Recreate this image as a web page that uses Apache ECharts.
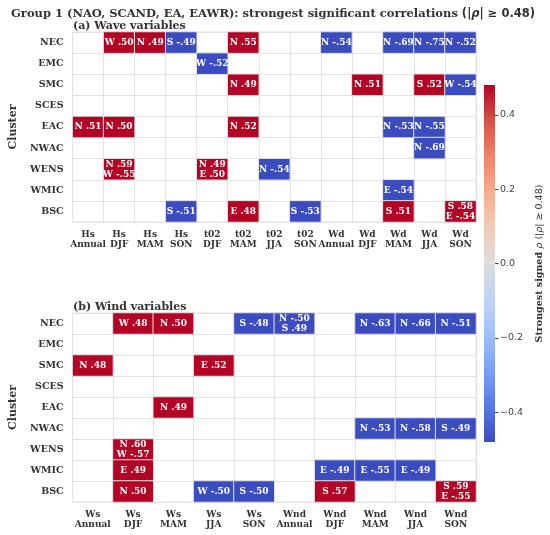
<!DOCTYPE html>
<html>
<head>
<meta charset="utf-8">
<script src="https://cdn.jsdelivr.net/npm/echarts@6/dist/echarts.min.js"></script>
<style>
  html, body { margin: 0; padding: 0; background: #fff; }
  #chart { width: 550px; height: 535px; }
</style>
</head>
<body>
<div id="chart"></div>
<script>
// ---- data ----
const clusters = ['NEC', 'EMC', 'SMC', 'SCES', 'EAC', 'NWAC', 'WENS', 'WMIC', 'BSC'];

const waveCols = ['Hs\nAnnual', 'Hs\nDJF', 'Hs\nMAM', 'Hs\nSON', 't02\nDJF', 't02\nMAM', 't02\nJJA',
  't02\nSON', 'Wd\nAnnual', 'Wd\nDJF', 'Wd\nMAM', 'Wd\nJJA', 'Wd\nSON'];

const windCols = ['Ws\nAnnual', 'Ws\nDJF', 'Ws\nMAM', 'Ws\nJJA', 'Ws\nSON', 'Wnd\nAnnual', 'Wnd\nDJF',
  'Wnd\nMAM', 'Wnd\nJJA', 'Wnd\nSON'];

// [column, cluster row, strongest signed rho, cell text]
const waveCells = [
  [1, 0, 0.50, 'W .50'], [2, 0, 0.49, 'N .49'], [3, 0, -0.49, 'S -.49'], [5, 0, 0.55, 'N .55'],
  [8, 0, -0.54, 'N -.54'], [10, 0, -0.69, 'N -.69'], [11, 0, -0.75, 'N -.75'], [12, 0, -0.52, 'N -.52'],
  [4, 1, -0.52, 'W -.52'],
  [5, 2, 0.49, 'N .49'], [9, 2, 0.51, 'N .51'], [11, 2, 0.52, 'S .52'], [12, 2, -0.54, 'W -.54'],
  [0, 4, 0.51, 'N .51'], [1, 4, 0.50, 'N .50'], [5, 4, 0.52, 'N .52'], [10, 4, -0.53, 'N -.53'], [11, 4, -0.55, 'N -.55'],
  [11, 5, -0.69, 'N -.69'],
  [1, 6, 0.59, 'N .59\nW -.55'], [4, 6, 0.50, 'N .49\nE .50'], [6, 6, -0.54, 'N -.54'],
  [10, 7, -0.54, 'E -.54'],
  [3, 8, -0.51, 'S -.51'], [5, 8, 0.48, 'E .48'], [7, 8, -0.53, 'S -.53'], [10, 8, 0.51, 'S .51'],
  [12, 8, 0.58, 'S .58\nE -.54']
];

const windCells = [
  [1, 0, 0.48, 'W .48'], [2, 0, 0.50, 'N .50'], [4, 0, -0.48, 'S -.48'], [5, 0, -0.50, 'N -.50\nS .49'],
  [7, 0, -0.63, 'N -.63'], [8, 0, -0.66, 'N -.66'], [9, 0, -0.51, 'N -.51'],
  [0, 2, 0.48, 'N .48'], [3, 2, 0.52, 'E .52'],
  [2, 4, 0.49, 'N .49'],
  [7, 5, -0.53, 'N -.53'], [8, 5, -0.58, 'N -.58'], [9, 5, -0.49, 'S -.49'],
  [1, 6, 0.60, 'N .60\nW -.57'],
  [1, 7, 0.49, 'E .49'], [6, 7, -0.49, 'E -.49'], [7, 7, -0.55, 'E -.55'], [8, 7, -0.49, 'E -.49'],
  [1, 8, 0.50, 'N .50'], [3, 8, -0.50, 'W -.50'], [4, 8, -0.50, 'S -.50'], [6, 8, 0.57, 'S .57'],
  [9, 8, 0.59, 'S .59\nE -.55']
];

const rhoRange = [-0.48, 0.48];
const cbarTicks = [-0.4, -0.2, 0, 0.2, 0.4];

// coolwarm, 11 stops
const coolwarm = ['#3b4cc0', '#5977e3', '#7b9ff9', '#9ebeff', '#c0d4f5', '#dddcdc',
  '#f2cbb7', '#f7ac8e', '#ee8468', '#d65244', '#b40426'];

// ---- style ----
const SERIF = 'DejaVu Serif';
const SANS = 'DejaVu Sans';
const INK = '#333';
const GRIDLINE = '#e3e3e3';

function gradient(cols) {
  return new echarts.graphic.LinearGradient(0, 0, 0, 1,
    cols.map((c, i) => ({ offset: i / (cols.length - 1), color: c })));
}

function catX(data, gridIndex) {
  return {
    type: 'category', gridIndex, data, position: 'bottom',
    axisLine: { show: false }, axisTick: { show: false },
    splitLine: { show: true, interval: 0, lineStyle: { color: GRIDLINE, width: 1 } },
    axisLabel: { interval: 0, color: INK, fontFamily: SERIF, fontWeight: 'bold', fontSize: 9, lineHeight: 10, margin: 8 }
  };
}
function catY(gridIndex) {
  return {
    type: 'category', gridIndex, data: clusters, inverse: true,
    axisLine: { show: false }, axisTick: { show: false },
    splitLine: { show: true, interval: 0, lineStyle: { color: GRIDLINE, width: 1 } },
    axisLabel: { interval: 0, color: INK, fontFamily: SERIF, fontWeight: 'bold', fontSize: 9.5, margin: 9 },
    name: 'Cluster', nameLocation: 'middle', nameRotate: 90, nameGap: 48,
    nameTextStyle: { color: INK, fontFamily: SERIF, fontWeight: 'bold', fontSize: 11 }
  };
}
function heat(cells, idx) {
  return {
    type: 'heatmap', xAxisIndex: idx, yAxisIndex: idx, data: cells,
    itemStyle: { borderColor: GRIDLINE, borderWidth: 1 },
    label: {
      show: true, formatter: p => p.data[3], color: '#fff',
      fontFamily: SERIF, fontWeight: 'bold', fontSize: 9, lineHeight: 10
    },
    emphasis: { disabled: true }
  };
}

const chart = echarts.init(document.getElementById('chart'), null, { renderer: 'canvas' });

chart.setOption({
  backgroundColor: '#fff',
  animation: false,
  title: [
    {
      left: 6, top: 3,
      text: '{b|Group 1 (NAO, SCAND, EA, EAWR): strongest significant correlations }{m|(|}{i|ρ}{m|| ≥ 0.48)}',
      textStyle: {
        rich: {
          b: { fontFamily: SERIF, fontWeight: 'bold', fontSize: 11.5, color: INK },
          m: { fontFamily: SANS, fontSize: 11.5, color: INK },
          i: { fontFamily: SANS, fontStyle: 'italic', fontSize: 11.5, color: INK }
        }
      }
    },
    { left: 68, top: 16, text: '(a) Wave variables', textStyle: { fontFamily: SERIF, fontWeight: 'bold', fontSize: 11, color: INK } },
    { left: 68, top: 297, text: '(b) Wind variables', textStyle: { fontFamily: SERIF, fontWeight: 'bold', fontSize: 11, color: INK } }
  ],
  grid: [
    { left: 69, top: 32, width: 407, height: 190, show: true, borderColor: GRIDLINE, borderWidth: 1, backgroundColor: '#fff' },
    { left: 69, top: 313, width: 407, height: 189, show: true, borderColor: GRIDLINE, borderWidth: 1, backgroundColor: '#fff' },
    { left: 484, top: 85, width: 11, height: 357 }
  ],
  xAxis: [
    catX(waveCols, 0),
    catX(windCols, 1),
    { type: 'category', gridIndex: 2, data: ['cb'], show: false }
  ],
  yAxis: [
    catY(0),
    catY(1),
    {
      type: 'value', gridIndex: 2, min: rhoRange[0], max: rhoRange[1], position: 'right',
      splitLine: { show: false },
      axisLine: { show: false },
      axisTick: { show: true, length: 3.5, customValues: cbarTicks, lineStyle: { color: '#444' } },
      axisLabel: {
        customValues: cbarTicks, color: '#444', fontFamily: SANS, fontSize: 9.5, margin: 5,
        formatter: v => v.toFixed(1).replace('-', '\u2212')
      },
      name: '{b|Strongest signed }{i|ρ}{m| (|}{i|ρ}{m|| ≥ 0.48)}', nameLocation: 'middle', nameRotate: 90, nameGap: 40,
      nameTextStyle: {
        rich: {
          b: { fontFamily: SERIF, fontWeight: 'bold', fontSize: 9.5, color: INK },
          m: { fontFamily: SANS, fontSize: 9.5, color: INK },
          i: { fontFamily: SANS, fontStyle: 'italic', fontSize: 9.5, color: INK }
        }
      }
    }
  ],
  visualMap: {
    show: false, seriesIndex: [0, 1], dimension: 2,
    min: rhoRange[0], max: rhoRange[1], inRange: { color: coolwarm }
  },
  series: [
    heat(waveCells, 0),
    heat(windCells, 1),
    {
      type: 'bar', xAxisIndex: 2, yAxisIndex: 2, barWidth: '100%', barGap: '-100%',
      data: [rhoRange[1]], silent: true,
      itemStyle: { color: gradient(coolwarm.slice(5).reverse()) }
    },
    {
      type: 'bar', xAxisIndex: 2, yAxisIndex: 2, barWidth: '100%', barGap: '-100%',
      data: [rhoRange[0]], silent: true,
      itemStyle: { color: gradient(coolwarm.slice(0, 6).reverse()) }
    }
  ]
});
</script>
</body>
</html>
